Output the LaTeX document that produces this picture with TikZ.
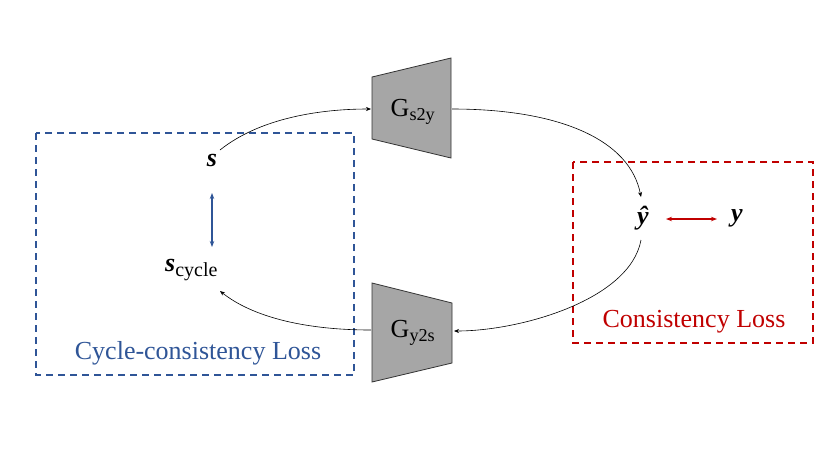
\documentclass[tikz,border=0pt]{standalone}
\usepackage{fontspec}
\setmainfont{Liberation Serif}
\usetikzlibrary{arrows.meta}
\definecolor{lblue}{RGB}{47,85,151}
\definecolor{lred}{RGB}{192,0,0}
\begin{document}
\begin{tikzpicture}[x=1pt,y=-1pt,
  trap/.style={draw=black!80,fill=black!35,line width=0.8pt},
  conn/.style={-{Stealth[length=5pt,width=4pt]},line width=0.6pt},
  lbl/.style={inner sep=0pt,font=\fontsize{26}{30}\selectfont},
  loss/.style={dashed,line width=1.6pt,dash pattern=on 7pt off 5pt}]
\useasboundingbox (0,0) rectangle (830,467);
\draw[trap] (372,77) -- (451,58) -- (451,158) -- (372,139) -- cycle;
\draw[trap] (372,283) -- (452,303) -- (452,363) -- (372,382) -- cycle;
\node[lbl] (g1) at (413,112) {G\textsubscript{s2y}};
\node[lbl] (g2) at (413,333) {G\textsubscript{y2s}};
\coordinate (g1l) at (371,109); \coordinate (g1r) at (452,109);
\coordinate (g2l) at (371,330); \coordinate (g2r) at (454,331);
\draw[loss,lblue] (36,133) rectangle (354,375);
\draw[loss,lred] (573,162) rectangle (813,343);
\node[lbl] (s) at (212,160) {\textbf{\textit{s}}};
\node[lbl,anchor=west] (sc) at (165,270) {\textbf{\textit{s}}\textsubscript{\fontsize{20}{24}\selectfont cycle}};
\node[lbl] (yh) at (643,218) {\textbf{\textit{ŷ}}};
\node[lbl] (y) at (737,218) {\textbf{\textit{y}}};
\node[text=lblue,font=\fontsize{26}{30}\selectfont] (cl) at (198,353) {Cycle-consistency Loss};
\node[text=lred,font=\fontsize{26}{30}\selectfont] (ll) at (694,322) {Consistency Loss};
\draw[{Stealth[length=6pt]}-{Stealth[length=6pt]},lblue,line width=1.6pt] (212,193) -- (212,247);
\draw[{Stealth[length=6pt]}-{Stealth[length=6pt]},lred,line width=1.6pt] (666,219) -- (717,219);
\draw[conn] (220,150) .. controls (260,118) and (320,109) .. (g1l);
\draw[conn] (g1r) .. controls (560,109) and (630,140) .. (641,197);
\draw[conn] (641,240) .. controls (630,300) and (520,331) .. (g2r);
\draw[conn] (g2l) .. controls (300,330) and (250,315) .. (220,291);
\end{tikzpicture}
\end{document}
